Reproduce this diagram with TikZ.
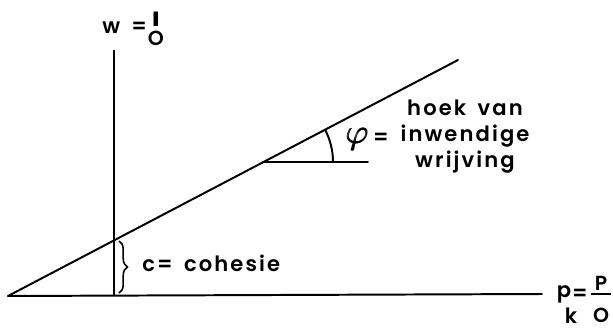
\documentclass[tikz,border=0pt]{standalone}
\usepackage{fontspec}
\setmainfont{Poppins}[UprightFont=* SemiBold, LetterSpace=10, WordSpace=1.6]
\usetikzlibrary{decorations.pathreplacing,positioning}
\tikzset{
  axisline/.style={line width=1.4pt, line cap=round},
  thinaxis/.style={line width=1pt},
  bracemark/.style={line width=1.1pt, decorate,
    decoration={brace, amplitude=6pt}},
  labeltext/.style={font=\fontsize{15}{18.5}\selectfont, inner sep=0pt},
  fractext/.style={font=\fontsize{14.5}{15}\selectfont, inner sep=0pt},
}
\newcommand{\heavyphi}{\rlap{$\varphi$}\kern0.5pt\rlap{$\varphi$}\kern0.5pt$\varphi$}

\begin{document}
\begin{tikzpicture}[x=0.025cm, y=-0.025cm]
  \useasboundingbox (0,0) rectangle (613,330);

  \coordinate (orig)  at (8,296);
  \coordinate (xend)  at (542,294);
  \coordinate (wfoot) at (114,296);
  \coordinate (wtop)  at (114,50);
  \coordinate (send)  at (458,60);
  \coordinate (apex)  at (263,162);
  \coordinate (hend)  at (368,162);
  \coordinate (arcst) at (333,162);
  \coordinate (brtop) at (119,241);
  \coordinate (brbot) at (119,293);
  \coordinate (pbarl) at (591,294);
  \coordinate (pbarr) at (611,294);

  \draw[axisline] (orig) -- (xend);
  \draw[thinaxis] (wfoot) -- (wtop);
  \draw[axisline] (orig) -- (send);
  \draw[axisline] (apex) -- (hend);
  \draw[axisline] (arcst) arc[start angle=0, end angle=-27.67, radius=70];
  \draw[bracemark] (brtop) -- (brbot);

  \node[labeltext, anchor=west] (coh) at (142,263) {c= cohesie};
  \node[labeltext, align=center] (hoek) at (465,137) {hoek van\\inwendige\\wrijving};
  \node[inner sep=0pt, font=\fontsize{24}{24}\selectfont] (phi) at (357,139) {\heavyphi};
  \node[labeltext] (phieq) at (381,139) {=};

  \node[labeltext, anchor=base west] (wname) at (102,33) {w =};
  \node[fractext] (wnum) at (156,19) {\rmfamily\bfseries I};
  \node[fractext] (wden) at (156,38) {O};

  \node[labeltext] (pname) at (564,294) {p};
  \node[labeltext] (pidx) at (571,316) {k};
  \node[labeltext] (peq) at (580,295) {=};
  \node[fractext] (pnum) at (601,283) {P};
  \node[fractext] (pden) at (601,315) {O};
  \draw[thinaxis] (pbarl) -- (pbarr);
\end{tikzpicture}
\end{document}
